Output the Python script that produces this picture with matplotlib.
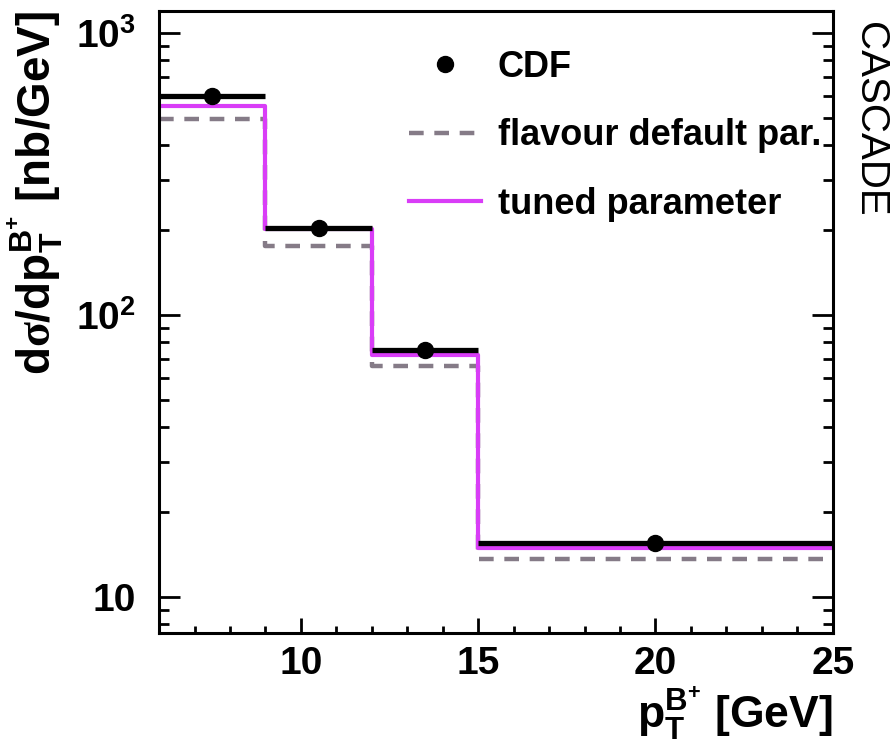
import numpy as np
import matplotlib
matplotlib.use('Agg')
import matplotlib.pyplot as plt
from matplotlib.lines import Line2D
from matplotlib.ticker import FixedLocator, NullFormatter

plt.rcParams['font.family'] = ['Liberation Sans', 'DejaVu Sans']
plt.rcParams['font.weight'] = 'bold'
plt.rcParams['axes.labelweight'] = 'bold'
plt.rcParams['mathtext.fontset'] = 'custom'
plt.rcParams['mathtext.rm'] = 'Liberation Sans:bold'
plt.rcParams['mathtext.bf'] = 'Liberation Sans:bold'
plt.rcParams['mathtext.it'] = 'Liberation Serif'
plt.rcParams['mathtext.default'] = 'rm'

# B+ pT bins [GeV] and cross sections [nb/GeV]
bin_edges = [6, 9, 12, 15, 25]
cdf_pt = [7.5, 10.5, 13.5, 20.0]
cdf_xsec = [598, 204, 75, 15.6]
flavour_default = [497, 176, 66, 13.6]
tuned_param = [550, 202, 72, 14.9]

edges = np.array(bin_edges, dtype=float)
centers = np.array(cdf_pt)
xerr = [centers - edges[:-1], edges[1:] - centers]


def step_y(vals):
    return np.append(vals, vals[-1])


fig = plt.figure(figsize=(8.9, 7.47), dpi=100)
ax = fig.add_axes([0.1787, 0.1526, 0.757, 0.8327])

h_flav, = ax.step(edges, step_y(flavour_default), where='post',
                  color='#857b87', lw=3.2, ls=(0, (3.3, 2.4)))
h_tune, = ax.step(edges, step_y(tuned_param), where='post',
                  color='#d93df7', lw=3.0)
ax.errorbar(cdf_pt, cdf_xsec, xerr=xerr, fmt='o', color='black',
            ms=11.5, elinewidth=3.8, capsize=0)
h_cdf = Line2D([], [], ls='none', marker='o', color='black', ms=11.5)

ax.set_yscale('log')
ax.set_xlim(6, 25)
ax.set_ylim(7.45, 1197)

ax.set_xticks([10, 15, 20, 25])
ax.set_xticklabels(['10', '15', '20', '25'])
ax.xaxis.set_minor_locator(FixedLocator(np.arange(7, 25, 1)))
ax.set_yticks([10, 100, 1000])
ax.set_yticklabels(['10', r'$10^{2}$', r'$10^{3}$'])
minor_y = [m * 10.0 ** d for d in range(0, 4) for m in range(2, 10)]
ax.yaxis.set_minor_locator(FixedLocator(minor_y))
ax.yaxis.set_minor_formatter(NullFormatter())

ax.tick_params(axis='both', which='both', direction='in', width=2.0)
ax.tick_params(axis='y', which='both', right=True)
ax.tick_params(axis='y', which='major', length=15, pad=17, labelsize=28)
ax.tick_params(axis='y', which='minor', length=7.5)
ax.tick_params(axis='x', which='major', length=10.5, pad=9, labelsize=28)
ax.tick_params(axis='x', which='minor', length=5)
for s in ax.spines.values():
    s.set_linewidth(2.2)

ax.set_xlabel(r'p$_{\rm T}^{\rm B^{+}}$ [GeV]', fontsize=32, loc='right',
              labelpad=2)
ax.set_ylabel(r'd$\mathit{\sigma}$/dp$_{\rm T}^{\rm B^{+}}$ [nb/GeV]',
              fontsize=33, loc='top', labelpad=8)

ax.legend([h_cdf, h_flav, h_tune],
          ['CDF', 'flavour default par.', 'tuned parameter'],
          loc='upper left', bbox_to_anchor=(0.323, 0.99), frameon=False,
          fontsize=26, handlelength=2.0, handletextpad=0.45,
          labelspacing=0.93)

fig.text(0.978, 0.97, 'CASCADE', rotation=-90, fontsize=29,
         fontweight='normal', ha='center', va='top')

fig.savefig('out.png', dpi=100)
